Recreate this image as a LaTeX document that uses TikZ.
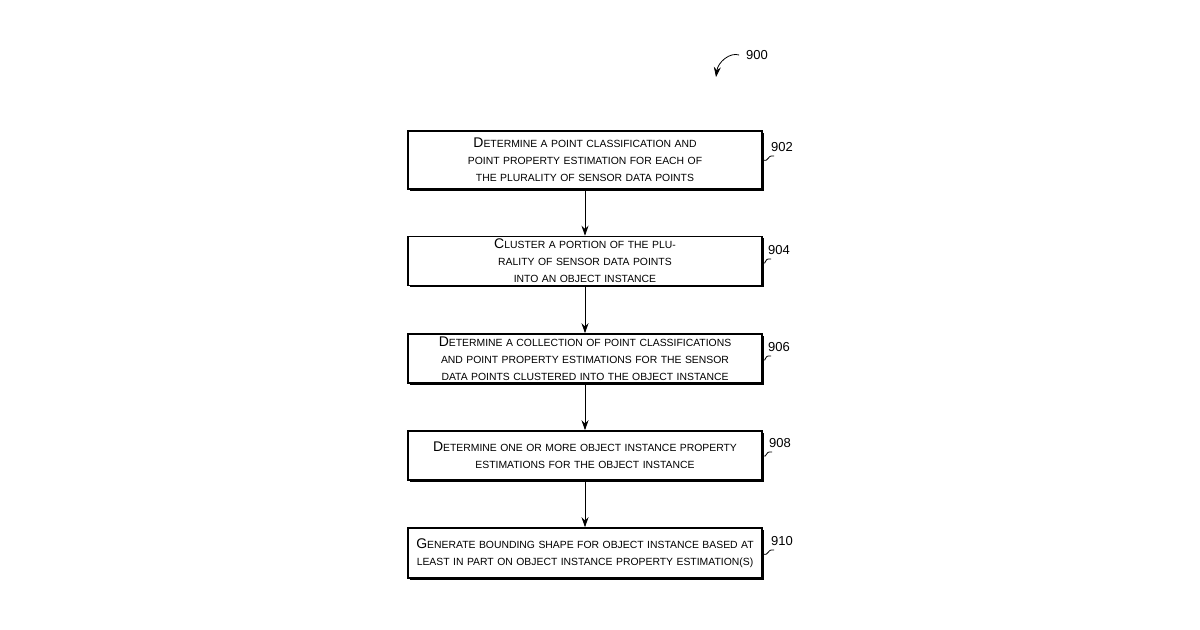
\documentclass[tikz,border=0pt]{standalone}
\usepackage{fontspec}
\setmainfont{Liberation Sans}
\usetikzlibrary{shadows,arrows.meta}
\newcommand{\Ini}[1]{{\fontsize{7}{8}\selectfont #1}}
\tikzset{
  step/.style={draw, thick, fill=white, minimum width=177pt, minimum height=#1,
    text width=172pt, align=center, inner sep=1pt,
    font=\fontsize{5.2}{8.5}\selectfont,
    drop shadow={shadow xshift=0.9pt, shadow yshift=-0.9pt, fill=black, opacity=1}},
  step/.default=24.5pt,
  tag/.style={font=\fontsize{6.5}{7}\selectfont},
  squig/.style={thin}
}
\begin{document}
\begin{tikzpicture}[x=0.5pt,y=-0.5pt]
   \useasboundingbox (0,0) rectangle (1200,630);

   \node[step=29pt] (s902) at (585,160) {\Ini{D}ETERMINE A POINT CLASSIFICATION AND POINT PROPERTY ESTIMATION FOR EACH OF THE PLURALITY OF SENSOR DATA POINTS};
   \node[step] (s904) at (585,261) {\Ini{C}LUSTER A PORTION OF THE PLURALITY OF SENSOR DATA POINTS\\ INTO AN OBJECT INSTANCE};
   \node[step] (s906) at (585,358.5) {\Ini{D}ETERMINE A COLLECTION OF POINT CLASSIFICATIONS AND POINT PROPERTY ESTIMATIONS FOR THE SENSOR DATA POINTS CLUSTERED INTO THE OBJECT INSTANCE};
   \node[step] (s908) at (585,455.5) {\Ini{D}ETERMINE ONE OR MORE OBJECT INSTANCE PROPERTY\\ ESTIMATIONS FOR THE OBJECT INSTANCE};
   \node[step=25pt] (s910) at (585,553) {\Ini{G}ENERATE BOUNDING SHAPE FOR OBJECT INSTANCE BASED AT LEAST IN PART ON OBJECT INSTANCE PROPERTY ESTIMATION(S)};

   % step arrows
   \foreach \a/\b in {s902/s904,s904/s906,s906/s908,s908/s910}
     \draw[-{Stealth[length=5pt,width=3.5pt]}] (\a) -- (\b);

   % reference numerals
   \foreach \n/\x/\y in {902/782/147,904/779/250,906/779/347,908/780/443,910/782/541} {
     \node[tag] (t\n) at (\x,\y) {\n};
     \draw[squig] (s\n.east |- 0,\y+13) .. controls (\x-12,\y+15) and (\x-16,\y+8) .. (\x-8,\y+9);
   }

   \node[tag] (t900) at (757,55) {900};
   \coordinate (a900) at (716,77);
   \draw[-{Stealth[length=5pt,width=3.5pt]}] (t900.west) .. controls (730,52) and (718,62) .. (a900);
\end{tikzpicture}
\end{document}
